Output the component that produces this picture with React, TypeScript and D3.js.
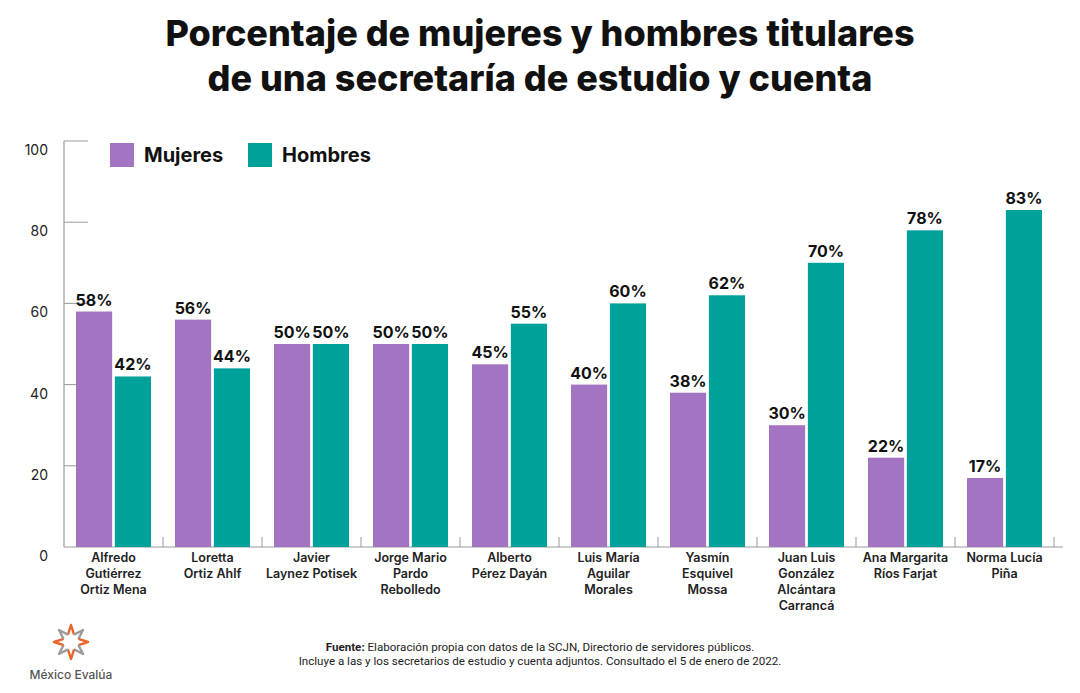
import React, { useEffect, useRef } from 'react';
import * as d3 from 'd3';

const names = [
  ['Alfredo', 'Gutiérrez', 'Ortiz Mena'],
  ['Loretta', 'Ortiz Ahlf'],
  ['Javier', 'Laynez Potisek'],
  ['Jorge Mario', 'Pardo', 'Rebolledo'],
  ['Alberto', 'Pérez Dayán'],
  ['Luis María', 'Aguilar', 'Morales'],
  ['Yasmín', 'Esquivel', 'Mossa'],
  ['Juan Luis', 'González', 'Alcántara', 'Carrancá'],
  ['Ana Margarita', 'Ríos Farjat'],
  ['Norma Lucía', 'Piña'],
];
const mujeres = [58, 56, 50, 50, 45, 40, 38, 30, 22, 17];
const hombres = [42, 44, 50, 50, 55, 60, 62, 70, 78, 83];
const yTicks = [0, 20, 40, 60, 80, 100];
const seriesNames = ['Mujeres', 'Hombres'];

const PURPLE = '#a374c2';
const TEAL = '#00a19a';
const AXIS = '#9a9a9a';

export default function App() {
  const ref = useRef<SVGSVGElement>(null);

  useEffect(() => {
    const svg = d3.select(ref.current);
    svg.selectAll('*').remove();
    const width = 1080;
    const height = 693;
    svg.attr('width', width).attr('height', height);

    const left = 64;
    const right = 1054;
    const top = 141;
    const bottom = 547;

    const x = d3
      .scaleBand()
      .domain(names.map((d, i) => String(i)))
      .range([left, right]);
    const inner = d3
      .scaleBand()
      .domain(seriesNames)
      .range([12, x.bandwidth() - 12])
      .paddingInner(0.07);
    const y = d3.scaleLinear().domain([0, 100]).range([bottom, top]);
    const color = d3.scaleOrdinal<string>().domain(seriesNames).range([PURPLE, TEAL]);

    // title
    const title = svg
      .append('text')
      .attr('x', 540)
      .attr('text-anchor', 'middle')
      .attr('font-family', 'Inter, sans-serif')
      .attr('font-weight', 800)
      .attr('font-size', 36)
      .attr('fill', '#111');
    title.append('tspan').attr('x', 540).attr('y', 46).text('Porcentaje de mujeres y hombres titulares');
    title.append('tspan').attr('x', 540).attr('y', 91).text('de una secretaría de estudio y cuenta');

    // y axis
    const g = svg.append('g');
    g.append('line')
      .attr('x1', left).attr('x2', left)
      .attr('y1', top).attr('y2', bottom)
      .attr('stroke', AXIS).attr('stroke-width', 1.2);
    g.selectAll('.ytick')
      .data(yTicks.filter((t) => t > 0))
      .enter()
      .append('line')
      .attr('x1', left).attr('x2', left + 24)
      .attr('y1', (d) => y(d)).attr('y2', (d) => y(d))
      .attr('stroke', AXIS).attr('stroke-width', 1);
    g.selectAll('.ylab')
      .data(yTicks)
      .enter()
      .append('text')
      .attr('x', 48)
      .attr('y', (d) => y(d) + 14)
      .attr('text-anchor', 'end')
      .attr('font-family', 'Inter, sans-serif')
      .attr('font-size', 14)
      .attr('fill', '#222')
      .text((d) => d);

    // x axis
    g.append('line')
      .attr('x1', left).attr('x2', right + 9)
      .attr('y1', bottom).attr('y2', bottom)
      .attr('stroke', AXIS).attr('stroke-width', 1.2);
    g.selectAll('.xtick')
      .data(d3.range(1, names.length + 1))
      .enter()
      .append('line')
      .attr('x1', (d) => left + d * x.bandwidth())
      .attr('x2', (d) => left + d * x.bandwidth())
      .attr('y1', bottom).attr('y2', bottom - 10)
      .attr('stroke', AXIS).attr('stroke-width', 1);

    // bars
    const groups = svg
      .append('g')
      .selectAll('g')
      .data(names.map((n, i) => ({ i, values: [mujeres[i], hombres[i]] })))
      .enter()
      .append('g')
      .attr('transform', (d) => `translate(${x(String(d.i))},0)`);

    groups
      .selectAll('rect')
      .data((d) => d.values.map((v, k) => ({ key: seriesNames[k], v })))
      .enter()
      .append('rect')
      .attr('x', (d) => inner(d.key)!)
      .attr('width', inner.bandwidth())
      .attr('y', (d) => y(d.v))
      .attr('height', (d) => bottom - y(d.v))
      .attr('fill', (d) => color(d.key));

    groups
      .selectAll('.val')
      .data((d) => d.values.map((v, k) => ({ key: seriesNames[k], v })))
      .enter()
      .append('text')
      .attr('x', (d) => inner(d.key)! + inner.bandwidth() / 2)
      .attr('y', (d) => y(d.v) - 6)
      .attr('text-anchor', 'middle')
      .attr('font-family', 'Inter, sans-serif')
      .attr('font-weight', 700)
      .attr('font-size', 16)
      .attr('fill', '#111')
      .text((d) => `${d.v}%`);

    // category labels
    const labels = groups
      .append('text')
      .attr('text-anchor', 'middle')
      .attr('font-family', 'Inter, sans-serif')
      .attr('font-weight', 600)
      .attr('font-size', 12.5)
      .attr('fill', '#222');
    labels
      .selectAll('tspan')
      .data((d) => names[d.i])
      .enter()
      .append('tspan')
      .attr('x', x.bandwidth() / 2)
      .attr('y', (d, k) => 562 + k * 16)
      .text((d) => d);

    // legend
    const legend = svg.append('g');
    const legX = [110, 248];
    seriesNames.forEach((s, k) => {
      legend.append('rect')
        .attr('x', legX[k]).attr('y', 143)
        .attr('width', 24).attr('height', 24)
        .attr('fill', color(s));
      legend.append('text')
        .attr('x', legX[k] + 34).attr('y', 162)
        .attr('font-family', 'Inter, sans-serif')
        .attr('font-weight', 700)
        .attr('font-size', 20)
        .attr('fill', '#111')
        .text(s);
    });

    // footer
    const foot = svg
      .append('text')
      .attr('text-anchor', 'middle')
      .attr('font-family', 'Roboto, sans-serif')
      .attr('font-size', 11.6)
      .attr('fill', '#222');
    const l1 = foot.append('tspan').attr('x', 540).attr('y', 651);
    l1.append('tspan').attr('font-weight', 700).text('Fuente:');
    l1.append('tspan').text(' Elaboración propia con datos de la SCJN, Directorio de servidores públicos.');
    foot.append('tspan').attr('x', 540).attr('y', 665)
      .text('Incluye a las y los secretarios de estudio y cuenta adjuntos. Consultado el 5 de enero de 2022.');

    // logo
    const cx = 71;
    const cy = 642;
    const logo = svg.append('g').attr('transform', `translate(${cx},${cy})`);
    d3.range(8).forEach((k) => {
      const a = (k * Math.PI) / 4 - Math.PI / 2;
      const a0 = a - Math.PI / 8;
      const a1 = a + Math.PI / 8;
      const ro = 17;
      const ri = 8;
      const pts: [number, number][] = [
        [ri * Math.cos(a0), ri * Math.sin(a0)],
        [ro * Math.cos(a), ro * Math.sin(a)],
        [ri * Math.cos(a1), ri * Math.sin(a1)],
      ];
      logo.append('path')
        .attr('d', d3.line()(pts))
        .attr('fill', 'none')
        .attr('stroke', k % 2 === 0 ? '#e8642c' : '#9c9c9c')
        .attr('stroke-width', 2.4)
        .attr('stroke-linejoin', 'round');
    });
    svg.append('text')
      .attr('x', cx).attr('y', 679)
      .attr('text-anchor', 'middle')
      .attr('font-family', 'Inter, sans-serif')
      .attr('font-weight', 500)
      .attr('font-size', 12)
      .attr('fill', '#555')
      .text('México Evalúa');
  }, []);

  return <svg ref={ref} style={{ position: 'absolute', left: 0, top: 0, background: '#fff' }} />;
}
